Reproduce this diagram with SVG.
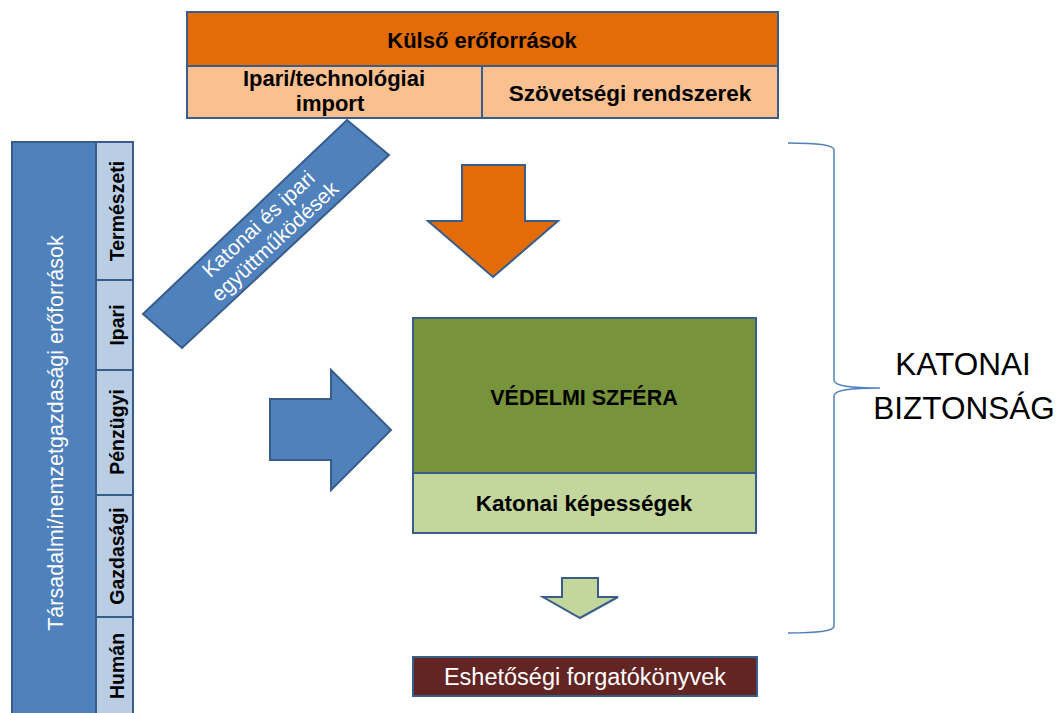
<svg xmlns="http://www.w3.org/2000/svg" width="1062" height="713" viewBox="0 0 1062 713">
<style>
.b{stroke:#385D8A;stroke-width:2}
.t{font-family:"Liberation Sans",Arial,sans-serif;text-anchor:middle}
.bd{font-weight:bold;fill:#000}
.w{fill:#fff}
</style>
<rect width="1062" height="713" fill="#fff"/>
<g id="kulso">
<rect class="b" x="187" y="12" width="591" height="54" fill="#E36C09"/>
<text class="t bd" x="482" y="48" font-size="22">Külső erőforrások</text>
</g>
<g id="ipari-import">
<rect class="b" x="187" y="66" width="295" height="52" fill="#FAC090"/>
<text class="t bd" x="334" y="86" font-size="22">Ipari/technológiai</text>
<text class="t bd" x="330" y="111" font-size="22">import</text>
</g>
<g id="szovetsegi">
<rect class="b" x="482" y="66" width="296" height="52" fill="#FAC090"/>
<text class="t bd" x="630" y="101" font-size="22.5">Szövetségi rendszerek</text>
</g>
<g id="tarsadalmi">
<rect class="b" x="12" y="142" width="84" height="580" fill="#4F81BD"/>
<text class="t w" transform="translate(63,433) rotate(-90)" font-size="21.5">Társadalmi/nemzetgazdasági erőforrások</text>
</g>
<g id="termeszeti">
<rect class="b" x="96" y="142" width="37" height="138" fill="#B9CDE5"/>
<text class="t bd" transform="translate(124,211) rotate(-90)" font-size="19.5">Természeti</text>
</g>
<g id="ipari">
<rect class="b" x="96" y="280" width="37" height="90" fill="#B9CDE5"/>
<text class="t bd" transform="translate(124,325) rotate(-90)" font-size="19.5">Ipari</text>
</g>
<g id="penzugyi">
<rect class="b" x="96" y="370" width="37" height="125" fill="#B9CDE5"/>
<text class="t bd" transform="translate(124,432) rotate(-90)" font-size="19.5">Pénzügyi</text>
</g>
<g id="gazdasagi">
<rect class="b" x="96" y="495" width="37" height="122" fill="#B9CDE5"/>
<text class="t bd" transform="translate(124,556) rotate(-90)" font-size="19.5">Gazdasági</text>
</g>
<g id="human">
<rect class="b" x="96" y="617" width="37" height="105" fill="#B9CDE5"/>
<text class="t bd" transform="translate(124,666) rotate(-90)" font-size="19.5">Humán</text>
</g>
<g id="egyuttmukodesek">
<polygon class="b" points="347,120 389,155 182,348 143,314" fill="#4F81BD"/>
<g transform="translate(266,232) rotate(-43)">
<text class="t w" x="0" y="-4" font-size="21">Katonai és ipari</text>
<text class="t w" x="0" y="20" font-size="21">együttműködések</text>
</g>
</g>
<g id="vedelmi">
<rect class="b" x="413" y="318" width="343" height="155" fill="#77933C"/>
<text class="t bd" x="584" y="405" font-size="21.5">VÉDELMI SZFÉRA</text>
</g>
<g id="kepessegek">
<rect class="b" x="413" y="473" width="343" height="60" fill="#C3D69B"/>
<text class="t bd" x="584" y="511" font-size="22.5">Katonai képességek</text>
</g>
<g id="eshetosegi">
<rect class="b" x="413" y="657" width="344" height="39" fill="#632523"/>
<text class="t w" x="585" y="685" font-size="23.5">Eshetőségi forgatókönyvek</text>
</g>
<g id="katonai-biztonsag">
<text class="t" x="963" y="375" font-size="31.5" fill="#000">KATONAI</text>
<text class="t" x="964" y="419" font-size="31.5" fill="#000">BIZTONSÁG</text>
</g>
<g id="connectors">
<polygon class="b" points="462,165 525,165 525,221 558,221 493,277 428,221 462,221" fill="#E36C09"/>
<polygon class="b" points="270,399 331,399 331,370 391,430 331,490 331,460 270,460" fill="#4F81BD"/>
<polygon class="b" points="562,578 598,578 598,597 618,597 580,618 543,597 562,597" fill="#C3D69B"/>
<path d="M788,143 C820,143 834,145 834,150 L834,380 C834,386 850,388 880,388 C850,388 834,390 834,396 L834,626 C834,631 820,633 788,633" fill="none" stroke="#4F81BD" stroke-width="1.5"/>
</g>
</svg>
